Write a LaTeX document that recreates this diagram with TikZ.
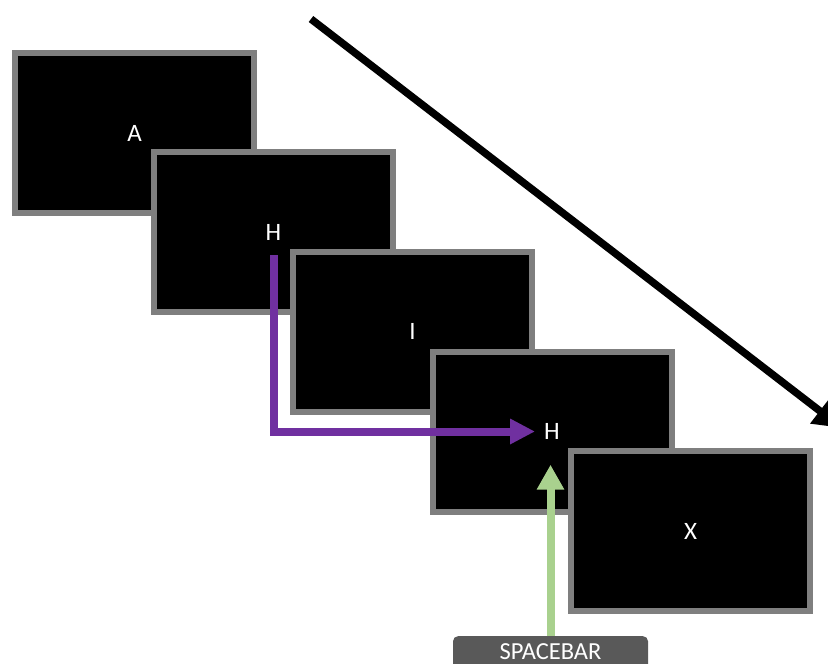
\documentclass[tikz,border=0pt]{standalone}
\usepackage{fontspec}
\setmainfont{Carlito}
\usetikzlibrary{arrows.meta,calc}
\definecolor{framegray}{HTML}{7F7F7F}
\definecolor{seqpurple}{HTML}{7030A0}
\definecolor{keygreen}{HTML}{A9D18E}
\definecolor{keygray}{HTML}{595959}
\tikzset{
  screen/.style={draw=framegray, fill=black, line width=6pt,
    minimum width=239pt, minimum height=160pt, inner sep=0pt},
  letter/.style={text=white, font=\fontsize{25}{29}\selectfont, inner sep=3pt},
  keybox/.style={fill=keygray, rounded corners=5pt, text=white,
    font=\fontsize{24.5}{28}\selectfont, minimum width=195pt,
    text height=19pt, text depth=10pt, inner ysep=4pt, inner xsep=0pt},
  timearrow/.style={line width=7.5pt, -{Triangle[length=28pt,width=30pt]}},
  matcharrow/.style={draw=seqpurple, line width=8pt,
    -{Triangle[length=25pt,width=24pt]}},
  pressarrow/.style={draw=keygreen, line width=8pt,
    -{Triangle[length=25pt,width=26pt]}},
}
\begin{document}
\begin{tikzpicture}[x=1pt,y=-1pt]
\useasboundingbox (0,0) rectangle (828,664);
\clip (0,0) rectangle (828,664);
\fill[white] (0,0) rectangle (828,664);

% stream of letter screens
\node[screen] (s1) at (134.5,133) {};
\node[letter] (l1) at (s1.center) {A};
\node[screen] (s2) at (273.5,232) {};
\node[letter] (l2) at (s2.center) {H};
\node[screen] (s3) at (412.5,331.5) {};
\node[letter] (l3) at (s3.center) {I};
\node[screen] (s4) at (552,431.5) {};
\node[letter] (l4) at (s4.center) {H};
\node[screen] (s5) at (690.5,531) {};
\node[letter] (l5) at (s5.center) {X};

% time direction
\coordinate (tstart) at (311,19);
\coordinate (tend) at (842,428);
\draw[timearrow] (tstart) -- (tend);

% repeated letter link
\draw[matcharrow] ([yshift=-12pt]l2.south) |- ([xshift=-6pt]l4.west);

% response key
\node[keybox, anchor=north] (sb) at (550.5,636) {SPACEBAR};
\coordinate (gtip) at ([yshift=-22pt]l4.south);
\draw[pressarrow] (sb.north) -- (sb.north |- gtip);
\end{tikzpicture}
\end{document}
